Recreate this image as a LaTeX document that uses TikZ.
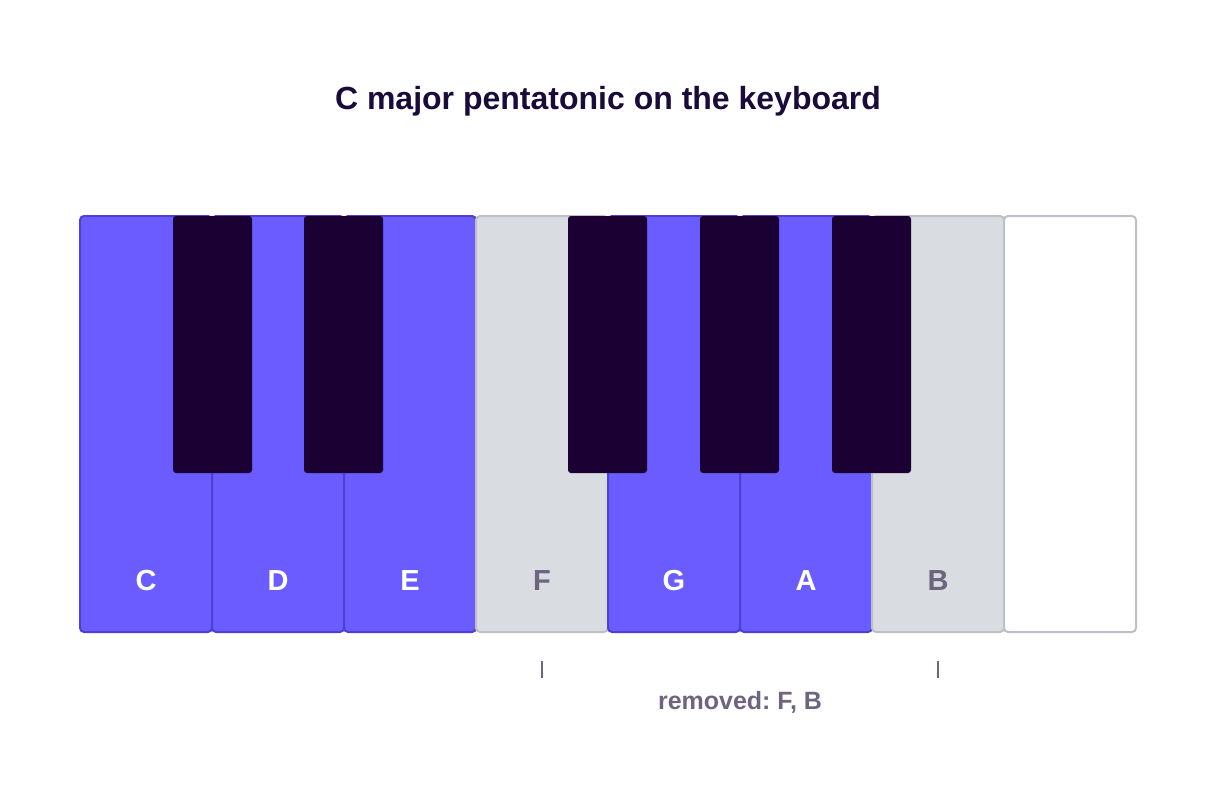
\documentclass[tikz,border=0pt]{standalone}
\usepackage{fontspec}
\setmainfont{Liberation Sans}
\frenchspacing
\definecolor{purp}{HTML}{6A5CFF}
\definecolor{purpline}{HTML}{4E40D0}
\definecolor{blk}{HTML}{1A0033}
\definecolor{greyfill}{HTML}{D9DCE1}
\definecolor{greyline}{HTML}{BDC0C6}
\definecolor{greytext}{HTML}{6E6480}
\definecolor{titlec}{HTML}{1A0B3A}
\begin{document}
\begin{tikzpicture}[x=1pt,y=-1pt,
  wkey/.style={rectangle, rounded corners=4pt, line width=2pt, minimum width=132pt, minimum height=416pt, inner sep=0pt, outer sep=0pt},
  onkey/.style={wkey, fill=purp, draw=purpline},
  offkey/.style={wkey, fill=greyfill, draw=greyline},
  plainkey/.style={wkey, fill=white, draw=greyline},
  bkey/.style={rectangle, rounded corners=3pt, fill=blk, minimum width=79pt, minimum height=257pt, inner sep=0pt},
  onlab/.style={font=\bfseries\fontsize{29}{34}\selectfont, text=white},
  offlab/.style={font=\bfseries\fontsize{29}{34}\selectfont, text=greytext},
  tick/.style={draw=greytext, line width=1.8pt}
]
\useasboundingbox (0,0) rectangle (1216,798);
\node[font=\bfseries\fontsize{32}{36}\selectfont, text=titlec] (title) at (608,101) {C major pentatonic on the keyboard};
\node[onkey] (kC) at (146,424) {};
\node[onkey] (kD) at (278,424) {};
\node[onkey] (kE) at (410,424) {};
\node[offkey] (kF) at (542,424) {};
\node[onkey] (kG) at (674,424) {};
\node[onkey] (kA) at (806,424) {};
\node[offkey] (kB) at (938,424) {};
\node[plainkey] (kC2) at (1070,424) {};
\node[bkey] (bCs) at (212.5,344.5) {};
\node[bkey] (bDs) at (343.5,344.5) {};
\node[bkey] (bFs) at (607.5,344.5) {};
\node[bkey] (bGs) at (739.5,344.5) {};
\node[bkey] (bAs) at (871.5,344.5) {};
\node[onlab] (lC) at (146,581) {C};
\node[onlab] (lD) at (278,581) {D};
\node[onlab] (lE) at (410,581) {E};
\node[offlab] (lF) at (542,581) {F};
\node[onlab] (lG) at (674,581) {G};
\node[onlab] (lA) at (806,581) {A};
\node[offlab] (lB) at (938,581) {B};
\coordinate (tFa) at (542,661);
\coordinate (tFb) at (542,678);
\coordinate (tBa) at (938,661);
\coordinate (tBb) at (938,678);
\draw[tick] (tFa) -- (tFb);
\draw[tick] (tBa) -- (tBb);
\node[font=\bfseries\fontsize{25}{30}\selectfont, text=greytext] (removed) at (740,702) {removed: F, B};
\end{tikzpicture}
\end{document}
